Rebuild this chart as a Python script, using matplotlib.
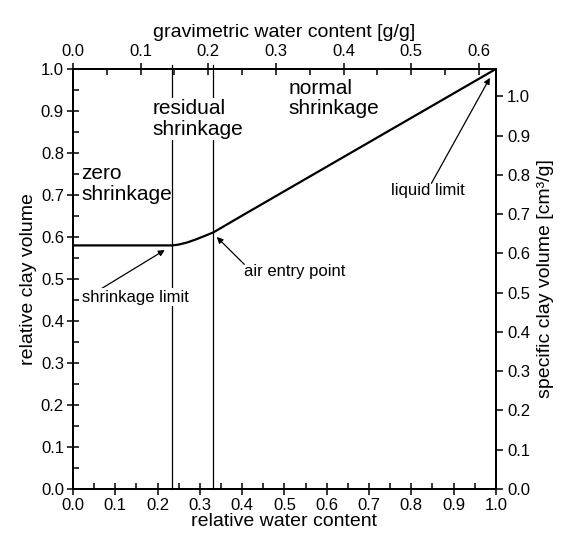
import matplotlib
matplotlib.use("Agg")
import matplotlib.pyplot as plt
from matplotlib.ticker import MultipleLocator

plt.rcParams['font.family'] = ['Liberation Sans', 'DejaVu Sans']

# data
rel_water = [0.0, 0.235, 0.25, 0.27, 0.29, 0.31, 0.332, 0.40, 1.0]
rel_volume = [0.58, 0.58, 0.582, 0.587, 0.594, 0.602, 0.611, 0.651, 1.0]
shrinkage_limit_x = 0.235
air_entry_x = 0.332
grav_max = 0.625
spec_max = 1.07
x_ticks = [0.0, 0.1, 0.2, 0.3, 0.4, 0.5, 0.6, 0.7, 0.8, 0.9, 1.0]
grav_ticks = [0.0, 0.1, 0.2, 0.3, 0.4, 0.5, 0.6]
spec_ticks = [0.0, 0.1, 0.2, 0.3, 0.4, 0.5, 0.6, 0.7, 0.8, 0.9, 1.0]

fig = plt.figure(figsize=(5.66, 5.38), dpi=100)
ax = fig.add_axes([0.129, 0.0911, 0.747, 0.7806])

ax.plot(rel_water, rel_volume, color='black', lw=1.6, zorder=3)
for xv in (shrinkage_limit_x, air_entry_x):
    ax.plot([xv, xv], [0.0, 1.01], color='black', lw=0.9, zorder=2, clip_on=False)

ax.set_xlim(0, 1)
ax.set_ylim(0, 1)
ax.set_xticks(x_ticks)
ax.set_yticks(x_ticks)
ax.set_xticklabels([f"{v:.1f}" for v in x_ticks])
ax.set_yticklabels([f"{v:.1f}" for v in x_ticks])
ax.xaxis.set_minor_locator(MultipleLocator(0.05))
ax.yaxis.set_minor_locator(MultipleLocator(0.05))
ax.tick_params(which='major', direction='inout', length=9, width=1.1, labelsize=12, colors='black', pad=2)
ax.tick_params(which='minor', direction='in', length=4, width=1.1)
ax.set_xlabel('relative water content', fontsize=14, labelpad=0)
ax.set_ylabel('relative clay volume', fontsize=14, labelpad=3)
for s in ax.spines.values():
    s.set_linewidth(1.4)

# top axis
axt = ax.twiny()
axt.set_xlim(0, grav_max)
axt.set_xticks(grav_ticks)
axt.set_xticklabels([f"{v:.1f}" for v in grav_ticks])
axt.xaxis.set_minor_locator(MultipleLocator(0.05))
axt.tick_params(which='major', direction='inout', length=9, width=1.1, labelsize=12, pad=3)
axt.tick_params(which='minor', direction='in', length=4, width=1.1)
axt.set_xlabel('gravimetric water content [g/g]', fontsize=14, labelpad=5)

# right axis
axr = ax.twinx()
axr.set_ylim(0, spec_max)
axr.set_yticks(spec_ticks)
axr.set_yticklabels([f"{v:.1f}" for v in spec_ticks])
axr.tick_params(which='major', direction='out', length=5, width=1.1, labelsize=12, pad=3)
axr.set_ylabel('specific clay volume [cm³/g]', fontsize=14, labelpad=5)
for a in (axt, axr):
    for s in a.spines.values():
        s.set_linewidth(1.4)

bb = dict(facecolor='white', edgecolor='none', pad=1)
ax.text(0.019, 0.726, 'zero\nshrinkage', fontsize=15, ha='left', va='center',
        linespacing=1.1, zorder=4)
ax.text(0.189, 0.881, 'residual\nshrinkage', fontsize=15, ha='left', va='center',
        linespacing=1.1, bbox=bb, zorder=4)
ax.text(0.51, 0.93, 'normal\nshrinkage', fontsize=15, ha='left', va='center',
        linespacing=1.1, bbox=bb, zorder=4)

ap = dict(arrowstyle='-|>', color='black', lw=0.9, mutation_scale=9)
ax.annotate('shrinkage limit', xy=(0.217, 0.569), xytext=(0.147, 0.457),
            fontsize=12, ha='center', va='center', bbox=bb, zorder=4,
            arrowprops=dict(ap, shrinkA=0, shrinkB=0, patchA=None, relpos=(0.17, 1.0)))
ax.annotate('air entry point', xy=(0.340, 0.60), xytext=(0.525, 0.517),
            fontsize=12, ha='center', va='center', zorder=4,
            arrowprops=dict(ap, shrinkA=0, shrinkB=0, patchA=None, relpos=(0.0, 1.0)))
ax.annotate('liquid limit', xy=(0.986, 0.979), xytext=(0.839, 0.71),
            fontsize=12, ha='center', va='center', zorder=4,
            arrowprops=dict(ap, shrinkA=0, shrinkB=0, patchA=None, relpos=(0.55, 1.0)))

fig.savefig('out.png', dpi=100)
